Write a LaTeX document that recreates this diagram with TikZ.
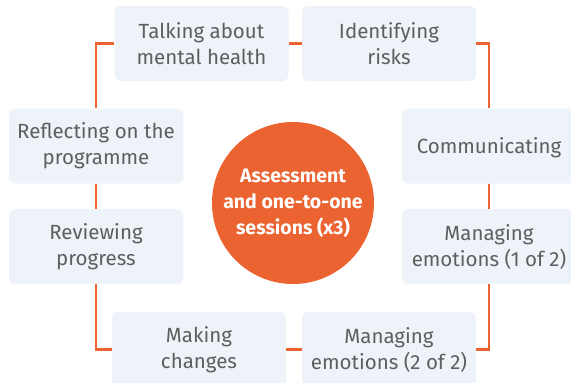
\documentclass[tikz,border=0pt]{standalone}
\usepackage{fontspec}
\setmainfont{Fira Sans}
\definecolor{orng}{HTML}{EB6330}
\definecolor{boxfill}{HTML}{EEF3F9}
\definecolor{txt}{HTML}{5E5E5E}
\begin{document}
\begin{tikzpicture}[x=1pt,y=-1pt,
  stepbox/.style={rectangle, rounded corners=6pt, fill=boxfill, text=txt,
    minimum width=174pt, minimum height=75pt, inner sep=0pt, align=center,
    font=\fontsize{20.5}{26}\selectfont},
  link/.style={draw=orng, line width=2.2pt}]
\useasboundingbox (0,0) rectangle (571,383);
\begin{scope}
\clip (0,0) rectangle (571,383);
\node[stepbox] (talk) at (201.5,43.5) {Talking about\\mental health};
\node[stepbox] (ident) at (389,43.5) {Identifying\\risks};
\node[stepbox, text depth=0pt] (comm) at (489,146) {Communicating};
\node[stepbox] (man1) at (489,246.5) {Managing\\emotions (1 of 2)};
\node[stepbox] (man2) at (389,349.5) {Managing\\emotions (2 of 2)};
\node[stepbox] (make) at (199,349.5) {Making\\changes};
\node[stepbox] (review) at (96,246.5) {Reviewing\\progress};
\node[stepbox] (reflect) at (96,146) {Reflecting on the\\programme};
\node[circle, fill=orng, minimum size=162pt, inner sep=0pt, text=white, align=center,
  font=\fontsize{19.5}{26}\selectfont\bfseries] (hub) at (293,203) {Assessment\\and one-to-one\\sessions (x3)};
\draw[link] (talk.west) -| (reflect.north);
\draw[link] (talk.east) -- (ident.west);
\draw[link] (ident.east) -| (comm.north);
\draw[link] (comm.south) -- (man1.north);
\draw[link] (man1.south) |- (man2.east);
\draw[link] (man2.west) -- (make.east);
\draw[link] (make.west) -| (review.south);
\draw[link] (review.north) -- (reflect.south);
\end{scope}
\end{tikzpicture}
\end{document}
